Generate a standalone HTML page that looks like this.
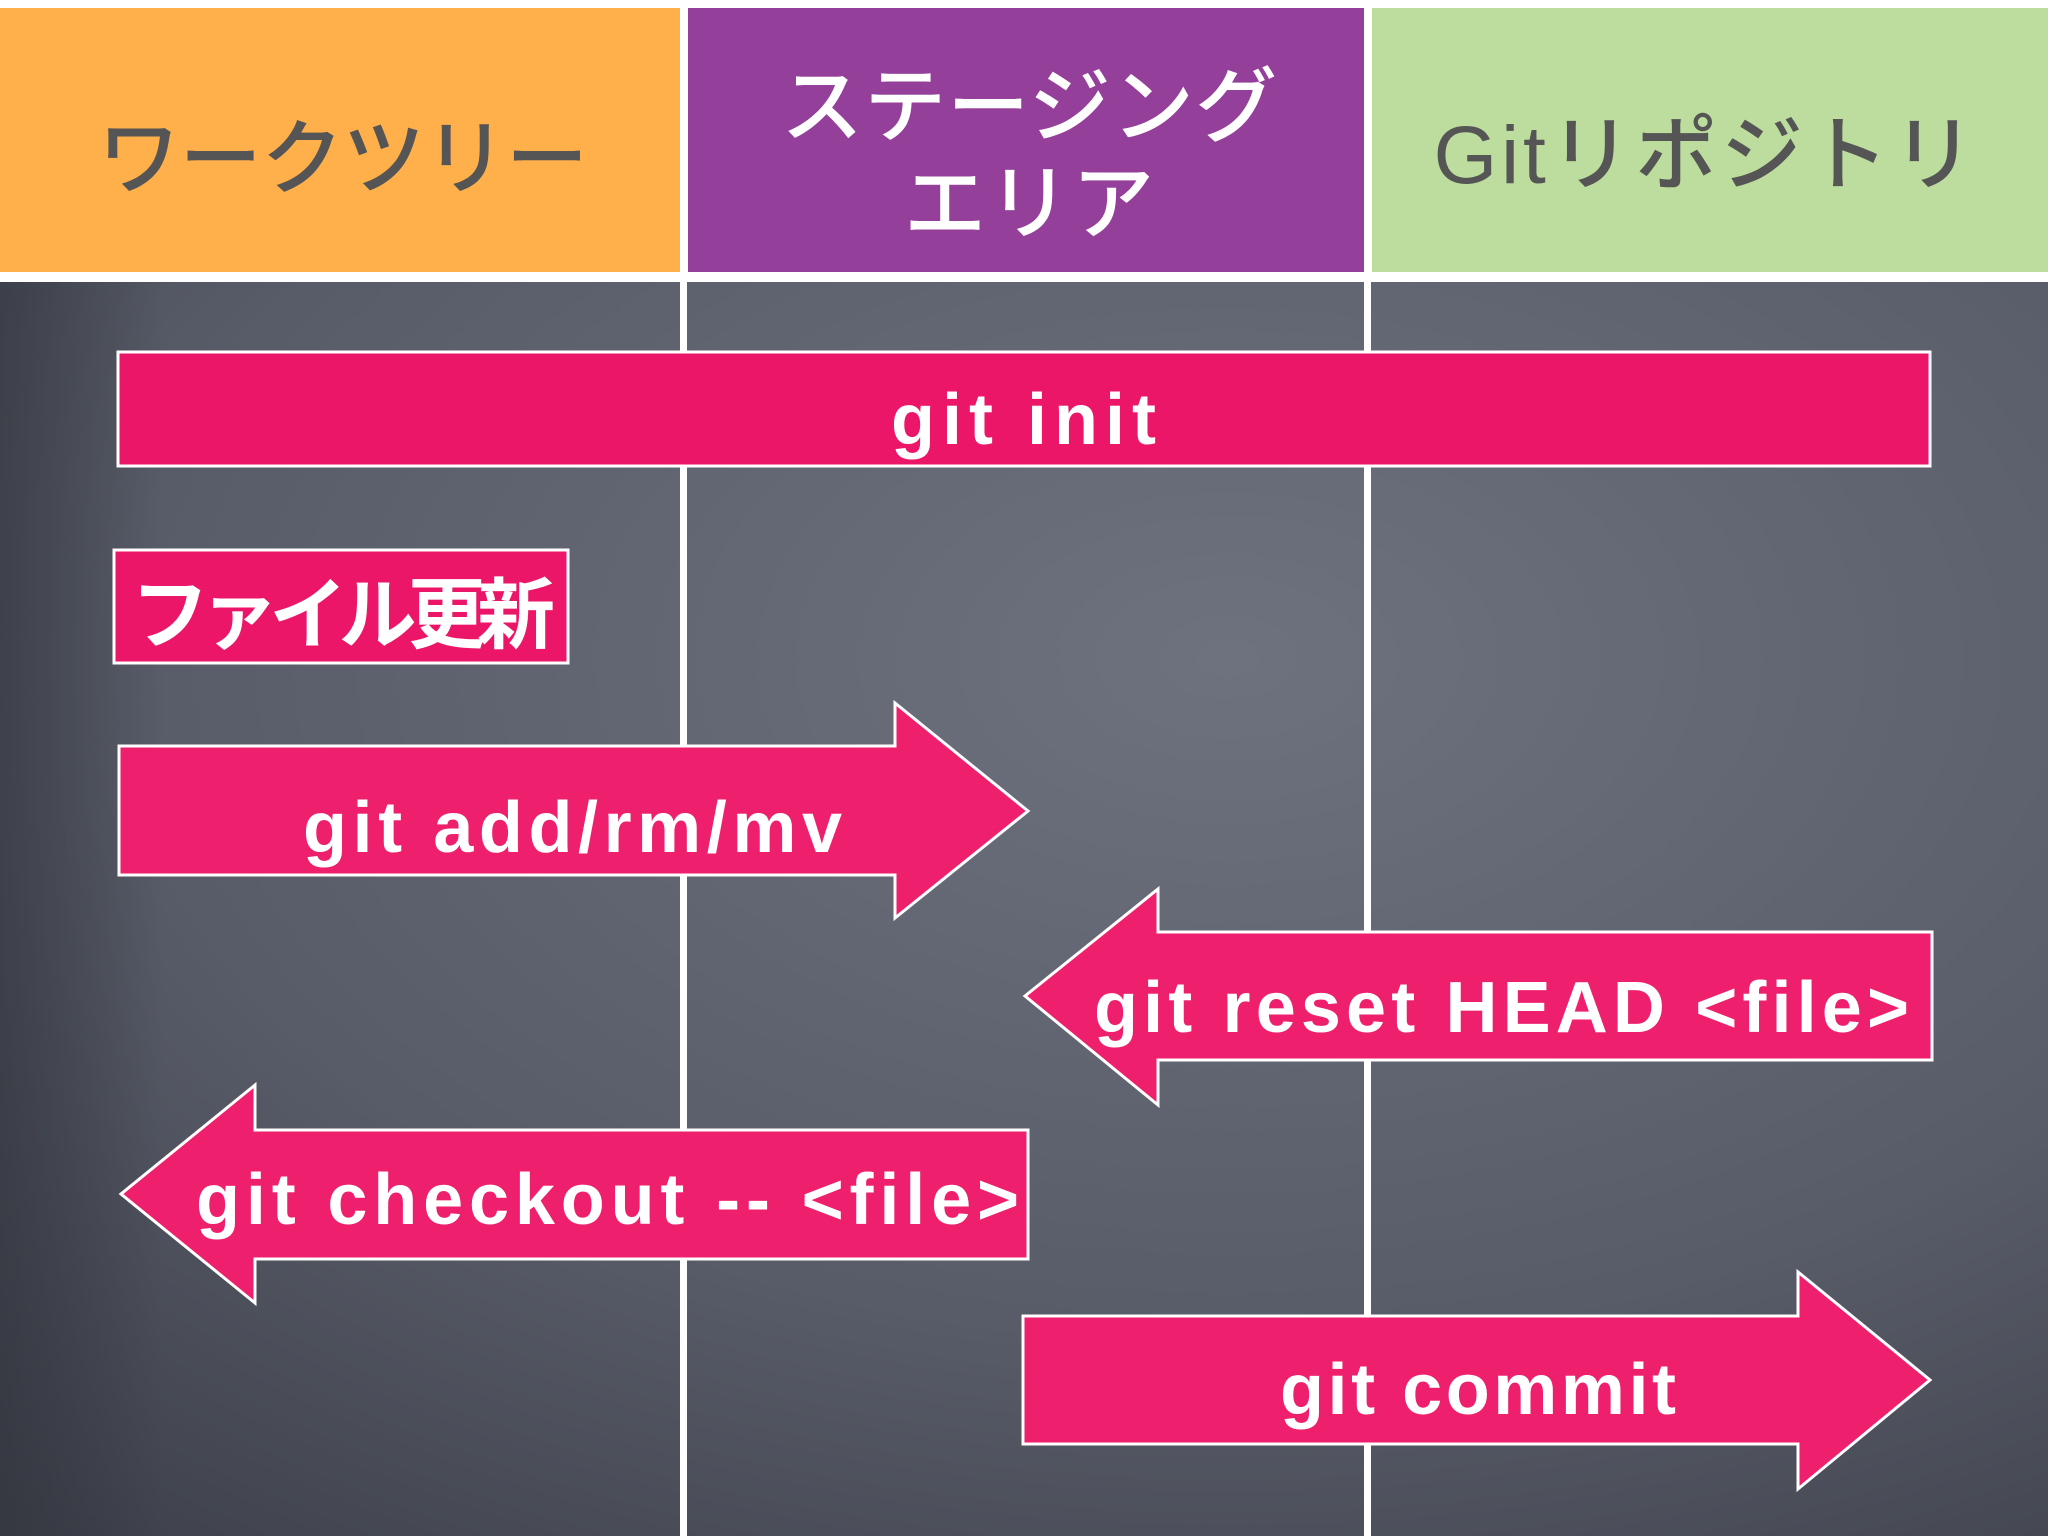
<!DOCTYPE html>
<html><head><meta charset="utf-8"><style>
html,body{margin:0;padding:0;width:2048px;height:1536px;overflow:hidden;background:#fff}
svg{display:block}
</style></head><body>
<svg width="2048" height="1536" viewBox="0 0 2048 1536" xmlns="http://www.w3.org/2000/svg">
<defs>
<radialGradient id="bg" cx="0.6" cy="0.3" r="0.9">
<stop offset="0" stop-color="#6e727e"/>
<stop offset="0.6" stop-color="#585c68"/>
<stop offset="1" stop-color="#3e414b"/>
</radialGradient>
<linearGradient id="lf" x1="0" y1="0" x2="1" y2="0">
<stop offset="0" stop-color="#30333b" stop-opacity="0.6"/>
<stop offset="0.08" stop-color="#30333b" stop-opacity="0"/>
</linearGradient>
</defs>
<rect x="0" y="0" width="2048" height="1536" fill="#fff"/>
<rect x="0" y="282" width="2048" height="1254" fill="url(#bg)"/>
<rect x="0" y="282" width="2048" height="1254" fill="url(#lf)"/>
<rect x="0" y="8" width="680" height="264" fill="#ffb04b"/>
<rect x="688" y="8" width="676" height="264" fill="#943f9a"/>
<rect x="1372" y="8" width="676" height="264" fill="#bcdd9d"/>
<rect x="680" y="270" width="7" height="1266" fill="#fff"/>
<rect x="1364" y="270" width="7" height="1266" fill="#fff"/>
<g font-family="'Liberation Sans','Noto Sans CJK JP',sans-serif" font-weight="500">
<text x="343" y="187" font-size="82" fill="#555" text-anchor="middle" textLength="490">ワークツリー</text>
<text x="1029" y="135" font-size="82" fill="#fff" text-anchor="middle" textLength="496">ステージング</text>
<text x="1029" y="232" font-size="82" fill="#fff" text-anchor="middle" textLength="250">エリア</text>
<text x="1704" y="183" font-size="82" fill="#555" text-anchor="middle" textLength="541">Gitリポジトリ</text>
</g>
<g stroke="#fff" stroke-width="3" fill="#ec1669">
<rect x="118" y="352" width="1812" height="114"/>
<rect x="114" y="550" width="454" height="113"/>
<polygon points="119,746 895,746 895,703 1028,811 895,918 895,875 119,875" fill="#ee1f6c"/>
<polygon points="1932,932 1158,932 1158,889 1025,996 1158,1105 1158,1060 1932,1060" fill="#ee1f6c"/>
<polygon points="1028,1130 255,1130 255,1085 121,1194 255,1303 255,1259 1028,1259" fill="#ee1f6c"/>
<polygon points="1023,1316 1798,1316 1798,1272 1930,1380 1798,1489 1798,1444 1023,1444" fill="#ee1f6c"/>
</g>
<g font-family="'Liberation Sans','Noto Sans CJK JP',sans-serif" font-weight="bold" fill="#fff" font-size="72">
<text x="891" y="444" textLength="265" lengthAdjust="spacing">git init</text>
<text x="131" y="642" font-size="78" textLength="424">ファイル更新</text>
<text x="303" y="852" textLength="539" lengthAdjust="spacing">git add/rm/mv</text>
<text x="1094" y="1032" textLength="815" lengthAdjust="spacing">git reset HEAD &lt;file&gt;</text>
<text x="196" y="1224" textLength="823" lengthAdjust="spacing">git checkout -- &lt;file&gt;</text>
<text x="1280" y="1414" textLength="396" lengthAdjust="spacing">git commit</text>
</g>
</svg>
</body></html>
